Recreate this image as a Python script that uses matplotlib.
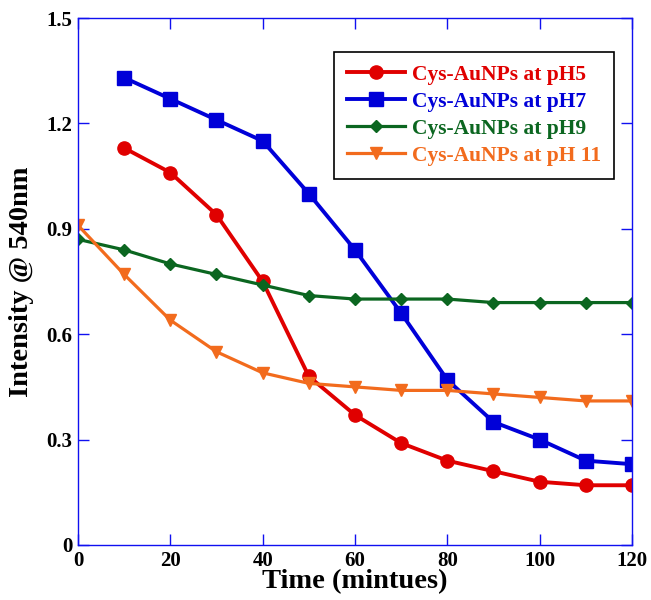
"""
Intensity at 540 nm of Cys-AuNPs over time at different pH values.
"""

import matplotlib
matplotlib.use("Agg")
import matplotlib.pyplot as plt

plt.rcParams.update({
    "font.family": ["Liberation Serif", "DejaVu Serif"],
    "font.weight": "bold",
    "axes.labelweight": "bold",
})

time_ph9_11 = [0, 10, 20, 30, 40, 50, 60, 70, 80, 90, 100, 110, 120]
time_ph5_7 = [10, 20, 30, 40, 50, 60, 70, 80, 90, 100, 110, 120]

ph5 = [1.13, 1.06, 0.94, 0.75, 0.48, 0.37, 0.29, 0.24, 0.21, 0.18, 0.17, 0.17]
ph7 = [1.33, 1.27, 1.21, 1.15, 1.00, 0.84, 0.66, 0.47, 0.35, 0.30, 0.24, 0.23]
ph9 = [0.87, 0.84, 0.80, 0.77, 0.74, 0.71, 0.70, 0.70, 0.70, 0.69, 0.69, 0.69, 0.69]
ph11 = [0.91, 0.77, 0.64, 0.55, 0.49, 0.46, 0.45, 0.44, 0.44, 0.43, 0.42, 0.41, 0.41]

labels = ["Cys-AuNPs at pH5", "Cys-AuNPs at pH7",
          "Cys-AuNPs at pH9", "Cys-AuNPs at pH 11"]
colors = ["#E00000", "#0000D8", "#0B6620", "#F26B1D"]

fig = plt.figure(figsize=(6.51, 6.00), dpi=100)
ax = fig.add_axes([0.1198, 0.0917, 0.851, 0.8783])

ax.plot(time_ph5_7, ph5, color=colors[0], marker="o", markersize=9.5,
        linewidth=2.8, label=labels[0])
ax.plot(time_ph5_7, ph7, color=colors[1], marker="s", markersize=9.5,
        linewidth=2.8, label=labels[1])
ax.plot(time_ph9_11, ph9, color=colors[2], marker="D", markersize=6.5,
        linewidth=2.3, label=labels[2])
ax.plot(time_ph9_11, ph11, color=colors[3], marker="v", markersize=8.5,
        linewidth=2.3, label=labels[3])

ax.set_xlim(0, 120)
ax.set_ylim(0, 1.5)
ax.set_xticks([0, 20, 40, 60, 80, 100, 120])
ax.set_yticks([0, 0.3, 0.6, 0.9, 1.2, 1.5])
ax.set_yticklabels(["0", "0.3", "0.6", "0.9", "1.2", "1.5"])

for sp in ax.spines.values():
    sp.set_color("#1010F0")
    sp.set_linewidth(1.0)
ax.tick_params(direction="in", length=8, width=1.0, color="#1010F0",
               top=True, right=True, labelsize=15, pad=4)
for t in ax.get_xticklabels() + ax.get_yticklabels():
    t.set_fontweight("bold")

ax.set_xlabel("Time (mintues)", fontsize=20.5, fontweight="bold", labelpad=-1)
ax.set_ylabel("Intensity @ 540nm", fontsize=20.5, fontweight="bold", labelpad=9)

leg = ax.legend(loc="upper right", bbox_to_anchor=(0.9675, 0.9355),
                borderaxespad=0, fontsize=15.5, handlelength=2.7,
                labelcolor="linecolor", fancybox=False, framealpha=1,
                edgecolor="black", labelspacing=0.32, handletextpad=0.3,
                borderpad=0.6)
leg.get_frame().set_linewidth(1.2)
for t in leg.get_texts():
    t.set_fontweight("bold")

fig.savefig("out.png", dpi=100)
